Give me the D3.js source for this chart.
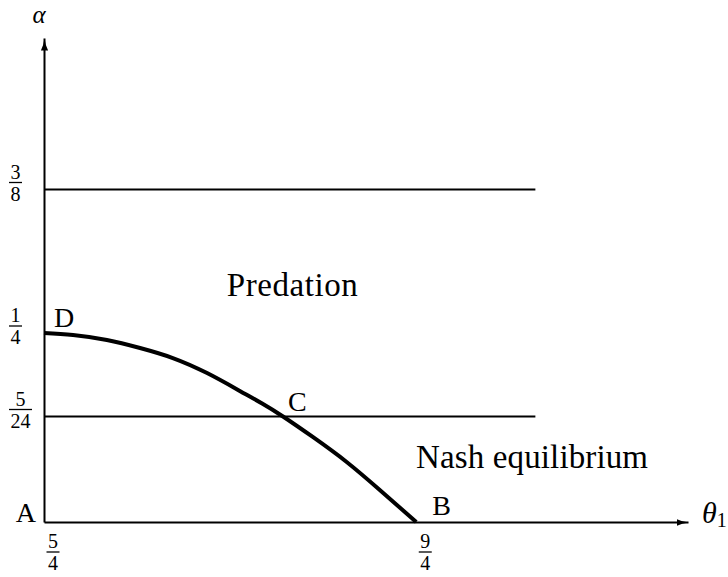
<!DOCTYPE html>
<html>
<head>
<meta charset="utf-8">
<script src="https://cdn.jsdelivr.net/npm/d3@7"></script>
</head>
<body style="margin:0">
<div id="chart"></div>
<script>
/* tick values and their fraction labels */
const thetaTicks = [1.25, 2.25];
const thetaTickLabels = [["5", "4"], ["9", "4"]];
const alphaTicks = [5 / 24, 1 / 4, 3 / 8];
const alphaTickLabels = [["5", "24"], ["1", "4"], ["3", "8"]];

/* horizontal boundaries */
const boundaryLevels = [3 / 8, 5 / 24];
const boundaryEnd = 2.57;

/* boundary curve D -> C -> B */
const curveTheta = [1.25, 1.328, 1.419, 1.508, 1.596, 1.688, 1.776, 1.836, 1.892, 1.972, 2.063, 2.152, 2.25];
const curveAlpha = [0.25, 0.249, 0.2465, 0.2425, 0.2375, 0.23, 0.2211, 0.2148, 5 / 24, 0.1679, 0.1185, 0.0632, 0];

/* named points */
const pointNames = ["A", "B", "C", "D"];
const pointTheta = [1.25, 2.25, 1.892, 1.25];
const pointAlpha = [0, 0, 5 / 24, 1 / 4];

/* region labels */
const regionNames = ["Predation", "Nash equilibrium"];
const regionTheta = [1.917, 2.561];
const regionAlpha = [0.282, 0.1066];

const width = 728, height = 577;
const fontName = "Liberation Serif";

const svg = d3.select("#chart").append("svg")
    .attr("width", width)
    .attr("height", height)
    .style("font-family", fontName);

svg.append("defs").append("marker")
    .attr("id", "arrow")
    .attr("markerUnits", "userSpaceOnUse")
    .attr("viewBox", "0 -5 14 10")
    .attr("markerWidth", 14)
    .attr("markerHeight", 10)
    .attr("refX", 12)
    .attr("refY", 0)
    .attr("orient", "auto")
    .append("path")
    .attr("d", "M0,-3.6 Q5,-1 12,0 Q5,1 0,3.6 Z")
    .attr("fill", "#000");

/* the alpha axis is schematic: piecewise between the marked values */
const x = d3.scaleLinear().domain([1.25, 2.98]).range([44, 688]);
const y = d3.scaleLinear()
    .domain([0, 5 / 24, 1 / 4, 3 / 8, 0.5])
    .range([522, 416.5, 333, 189.5, 38]);

/* fraction label: numerator, bar, denominator */
function fraction(g, pair, left, barY) {
    const num = g.append("text")
        .style("font-family", fontName)
        .style("font-size", "20px")
        .attr("fill", "#000")
        .attr("text-anchor", "middle")
        .attr("y", barY - 4)
        .text(pair[0]);
    const den = g.append("text")
        .style("font-family", fontName)
        .style("font-size", "20px")
        .attr("fill", "#000")
        .attr("text-anchor", "middle")
        .attr("y", barY + 18)
        .text(pair[1]);
    const w = Math.max(num.node().getComputedTextLength(), den.node().getComputedTextLength()) + 3;
    const cx = left + w / 2;
    num.attr("x", cx);
    den.attr("x", cx);
    g.append("line")
        .attr("x1", left).attr("x2", left + w)
        .attr("y1", barY).attr("y2", barY)
        .attr("stroke", "#000")
        .attr("stroke-width", 1.3);
}

/* x axis */
const xAxis = d3.axisBottom(x)
    .tickValues(thetaTicks)
    .tickSize(0)
    .tickSizeOuter(0);
const xAxisG = svg.append("g")
    .attr("transform", `translate(0,${y(0)})`)
    .call(xAxis);
xAxisG.select(".domain")
    .attr("stroke-width", 2)
    .attr("marker-end", "url(#arrow)");
xAxisG.selectAll(".tick text").remove();
xAxisG.selectAll(".tick").each(function(d, i) {
    fraction(d3.select(this), thetaTickLabels[i], 2, 30);
});

/* y axis */
const yAxis = d3.axisLeft(y)
    .tickValues(alphaTicks)
    .tickSize(0)
    .tickSizeOuter(0);
const yAxisG = svg.append("g")
    .attr("transform", `translate(${x(1.25)},0)`)
    .call(yAxis);
yAxisG.select(".domain")
    .attr("stroke-width", 2)
    .attr("marker-end", "url(#arrow)");
yAxisG.selectAll(".tick text").remove();
yAxisG.selectAll(".tick").each(function(d, i) {
    fraction(d3.select(this), alphaTickLabels[i], 9 - x(1.25), -7.5);
});

/* axis titles */
svg.append("text")
    .style("font-family", fontName)
    .style("font-style", "italic")
    .style("font-size", "25px")
    .attr("x", x(1.25) - 5)
    .attr("y", y(0.5) - 15)
    .attr("text-anchor", "middle")
    .text("α");

const thetaLabel = svg.append("text")
    .style("font-family", fontName)
    .style("font-style", "italic")
    .style("font-size", "30px")
    .attr("x", 702)
    .attr("y", y(0) + 1)
    .text("θ");
thetaLabel.append("tspan")
    .style("font-style", "normal")
    .style("font-size", "20px")
    .attr("dy", 4)
    .text("1");

/* horizontal boundaries */
svg.append("g").selectAll("line")
    .data(boundaryLevels)
    .join("line")
    .attr("x1", x(1.25))
    .attr("x2", x(boundaryEnd))
    .attr("y1", d => y(d))
    .attr("y2", d => y(d))
    .attr("stroke", "#000")
    .attr("stroke-width", 2);

/* boundary curve */
const curveData = curveTheta.map((t, i) => ({ theta: t, alpha: curveAlpha[i] }));
svg.append("path")
    .datum(curveData)
    .attr("fill", "none")
    .attr("stroke", "#000")
    .attr("stroke-width", 4)
    .attr("d", d3.line()
        .x(d => x(d.theta))
        .y(d => y(d.alpha))
        .curve(d3.curveNatural));

/* point names */
const pointOffset = { A: [-8, 0, "end"], B: [16, -7, "start"], C: [5, -6, "start"], D: [10, -6, "start"] };
svg.append("g").selectAll("text")
    .data(pointNames)
    .join("text")
    .style("font-family", fontName)
    .style("font-size", "28px")
    .attr("x", (d, i) => x(pointTheta[i]) + pointOffset[d][0])
    .attr("y", (d, i) => y(pointAlpha[i]) + pointOffset[d][1])
    .attr("text-anchor", d => pointOffset[d][2])
    .text(d => d);

/* region names */
const regionWidth = [131, 232];
svg.append("g").selectAll("text")
    .data(regionNames)
    .join("text")
    .style("font-family", fontName)
    .style("font-size", "33px")
    .attr("x", (d, i) => x(regionTheta[i]))
    .attr("y", (d, i) => y(regionAlpha[i]))
    .attr("text-anchor", "middle")
    .attr("textLength", (d, i) => regionWidth[i])
    .attr("lengthAdjust", "spacing")
    .text(d => d);
</script>
</body>
</html>
